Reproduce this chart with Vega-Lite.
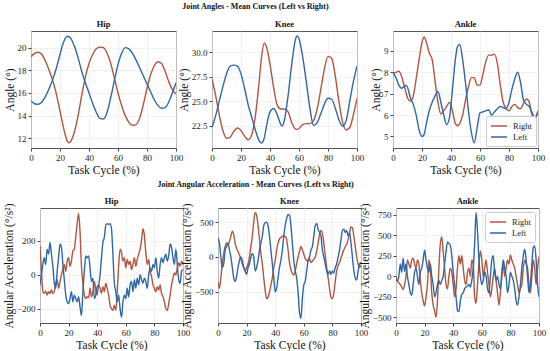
{
"$schema": "https://vega.github.io/schema/vega-lite/v6.json",
"background": "white",
"padding": {"left": 2, "top": 3, "right": 2, "bottom": 2},
"config": {
 "font": "Liberation Serif",
 "view": {"stroke": "#555555", "strokeWidth": 1},
 "axis": {"grid": true, "gridColor": "#ebebeb", "gridWidth": 0.7, "domain": false, "tickColor": "#444444", "tickSize": 3, "labelFontSize": 9, "labelColor": "#222222", "titleFontSize": 11.5, "titleFontWeight": "normal", "titleColor": "#111111", "labelFlush": false, "labelPadding": 2, "titlePadding": 2},
 "title": {"fontSize": 8.5, "fontWeight": "bold", "color": "#111111", "offset": 3},
 "legend": {"strokeColor": "#cccccc", "fillColor": "white", "padding": 4, "cornerRadius": 2, "labelFontSize": 8.5, "labelColor": "#222222", "symbolType": "M-1.6,0H1.6", "symbolSize": 100, "symbolStrokeWidth": 1.5, "symbolOffset": 3, "rowPadding": 0, "labelOffset": 8}
},
"datasets": {
"angles": [
{"j":"Hip","x":0,"Right":19.2,"Left":15.3},{"j":"Hip","x":2.5,"Right":19.5,"Left":15.05},{"j":"Hip","x":5,"Right":19.6,"Left":15.0},{"j":"Hip","x":7.5,"Right":19.4,"Left":15.2},{"j":"Hip","x":10,"Right":18.8,"Left":15.7},{"j":"Hip","x":12.5,"Right":18.0,"Left":16.4},{"j":"Hip","x":15,"Right":17.1,"Left":17.2},{"j":"Hip","x":17.5,"Right":15.9,"Left":18.2},{"j":"Hip","x":20,"Right":14.4,"Left":19.4},{"j":"Hip","x":22.5,"Right":12.9,"Left":20.5},{"j":"Hip","x":25,"Right":11.75,"Left":21.0},{"j":"Hip","x":26.25,"Right":11.6,"Left":20.95},{"j":"Hip","x":27.5,"Right":11.75,"Left":20.8},{"j":"Hip","x":30,"Right":12.6,"Left":20.1},{"j":"Hip","x":32.5,"Right":14.0,"Left":19.1},{"j":"Hip","x":35,"Right":15.8,"Left":17.9},{"j":"Hip","x":37.5,"Right":17.4,"Left":16.9},{"j":"Hip","x":40,"Right":18.6,"Left":16.0},{"j":"Hip","x":42.5,"Right":19.4,"Left":15.1},{"j":"Hip","x":45,"Right":19.9,"Left":14.3},{"j":"Hip","x":47.5,"Right":20.05,"Left":13.75},{"j":"Hip","x":50,"Right":20.0,"Left":13.7},{"j":"Hip","x":52.5,"Right":19.5,"Left":14.3},{"j":"Hip","x":55,"Right":18.6,"Left":15.6},{"j":"Hip","x":57.5,"Right":17.3,"Left":17.1},{"j":"Hip","x":60,"Right":16.0,"Left":18.5},{"j":"Hip","x":62.5,"Right":14.9,"Left":19.5},{"j":"Hip","x":65,"Right":14.0,"Left":20.0},{"j":"Hip","x":67.5,"Right":13.4,"Left":19.9},{"j":"Hip","x":70,"Right":13.15,"Left":19.5},{"j":"Hip","x":72.5,"Right":13.2,"Left":18.9},{"j":"Hip","x":75,"Right":13.8,"Left":18.2},{"j":"Hip","x":77.5,"Right":15.0,"Left":17.5},{"j":"Hip","x":80,"Right":16.4,"Left":16.8},{"j":"Hip","x":82.5,"Right":17.6,"Left":16.1},{"j":"Hip","x":85,"Right":18.4,"Left":15.4},{"j":"Hip","x":87.5,"Right":18.75,"Left":14.9},{"j":"Hip","x":90,"Right":18.6,"Left":14.65},{"j":"Hip","x":92.5,"Right":17.9,"Left":14.7},{"j":"Hip","x":95,"Right":17.0,"Left":15.2},{"j":"Hip","x":97.5,"Right":16.3,"Left":16.0},{"j":"Hip","x":100,"Right":15.9,"Left":16.9},
{"j":"Knee","x":0,"Right":27.3,"Left":22.3},{"j":"Knee","x":2.5,"Right":25.6,"Left":23.5},{"j":"Knee","x":5,"Right":23.6,"Left":25.0},{"j":"Knee","x":7.5,"Right":22.0,"Left":26.5},{"j":"Knee","x":10,"Right":21.2,"Left":27.8},{"j":"Knee","x":12.5,"Right":21.3,"Left":28.6},{"j":"Knee","x":15,"Right":21.9,"Left":28.7},{"j":"Knee","x":17.5,"Right":22.25,"Left":28.6},{"j":"Knee","x":20,"Right":22.0,"Left":27.8},{"j":"Knee","x":22.5,"Right":21.4,"Left":26.3},{"j":"Knee","x":25,"Right":21.05,"Left":24.6},{"j":"Knee","x":27.5,"Right":21.6,"Left":23.3},{"j":"Knee","x":30,"Right":23.6,"Left":22.0},{"j":"Knee","x":32.5,"Right":27.0,"Left":20.95},{"j":"Knee","x":34,"Right":29.3,"Left":20.7},{"j":"Knee","x":36,"Right":30.95,"Left":21.2},{"j":"Knee","x":37.5,"Right":30.6,"Left":22.4},{"j":"Knee","x":40,"Right":28.8,"Left":23.9},{"j":"Knee","x":42.5,"Right":26.4,"Left":24.25},{"j":"Knee","x":45,"Right":24.6,"Left":23.6},{"j":"Knee","x":47.5,"Right":24.2,"Left":22.6},{"j":"Knee","x":48.5,"Right":24.2,"Left":22.45},{"j":"Knee","x":50,"Right":24.2,"Left":23.1},{"j":"Knee","x":52.5,"Right":23.9,"Left":25.6},{"j":"Knee","x":55,"Right":22.8,"Left":28.8},{"j":"Knee","x":57.5,"Right":22.15,"Left":31.3},{"j":"Knee","x":58.5,"Right":22.1,"Left":31.7},{"j":"Knee","x":60,"Right":22.2,"Left":31.4},{"j":"Knee","x":62.5,"Right":22.6,"Left":29.6},{"j":"Knee","x":65,"Right":22.7,"Left":27.0},{"j":"Knee","x":67.5,"Right":22.7,"Left":24.3},{"j":"Knee","x":70,"Right":23.0,"Left":22.5},{"j":"Knee","x":72.5,"Right":24.2,"Left":22.8},{"j":"Knee","x":75,"Right":26.2,"Left":23.7},{"j":"Knee","x":77.5,"Right":28.3,"Left":24.7},{"j":"Knee","x":80,"Right":29.6,"Left":25.3},{"j":"Knee","x":82.5,"Right":29.4,"Left":25.2},{"j":"Knee","x":85,"Right":27.6,"Left":24.3},{"j":"Knee","x":87.5,"Right":25.0,"Left":23.1},{"j":"Knee","x":90,"Right":22.9,"Left":22.45},{"j":"Knee","x":92.5,"Right":22.05,"Left":23.0},{"j":"Knee","x":95,"Right":22.3,"Left":25.0},{"j":"Knee","x":97.5,"Right":23.6,"Left":27.0},{"j":"Knee","x":100,"Right":25.3,"Left":28.6},
{"j":"Ankle","x":0,"Right":7.95,"Left":8.0},{"j":"Ankle","x":2,"Right":8.0,"Left":7.75},{"j":"Ankle","x":4,"Right":8.05,"Left":7.4},{"j":"Ankle","x":6,"Right":7.8,"Left":7.25},{"j":"Ankle","x":8,"Right":7.3,"Left":7.35},{"j":"Ankle","x":9,"Right":7.05,"Left":7.4},{"j":"Ankle","x":10,"Right":6.8,"Left":7.3},{"j":"Ankle","x":12,"Right":6.65,"Left":6.8},{"j":"Ankle","x":14,"Right":6.9,"Left":6.5},{"j":"Ankle","x":16,"Right":7.7,"Left":6.0},{"j":"Ankle","x":18,"Right":8.6,"Left":5.3},{"j":"Ankle","x":20,"Right":9.4,"Left":5.0},{"j":"Ankle","x":21.5,"Right":9.65,"Left":5.1},{"j":"Ankle","x":23,"Right":9.4,"Left":5.6},{"j":"Ankle","x":25,"Right":8.9,"Left":6.2},{"j":"Ankle","x":27,"Right":8.6,"Left":6.6},{"j":"Ankle","x":29,"Right":7.6,"Left":6.9},{"j":"Ankle","x":31,"Right":6.6,"Left":7.1},{"j":"Ankle","x":33,"Right":6.05,"Left":6.6},{"j":"Ankle","x":35,"Right":6.2,"Left":6.0},{"j":"Ankle","x":37,"Right":6.4,"Left":5.55},{"j":"Ankle","x":39,"Right":6.6,"Left":5.9},{"j":"Ankle","x":41,"Right":6.2,"Left":7.2},{"j":"Ankle","x":43,"Right":5.6,"Left":8.6},{"j":"Ankle","x":44.5,"Right":5.5,"Left":9.2},{"j":"Ankle","x":46,"Right":5.6,"Left":9.3},{"j":"Ankle","x":48,"Right":6.0,"Left":8.6},{"j":"Ankle","x":50,"Right":6.7,"Left":7.5},{"j":"Ankle","x":52,"Right":7.3,"Left":6.2},{"j":"Ankle","x":54,"Right":7.75,"Left":5.2},{"j":"Ankle","x":56,"Right":7.75,"Left":4.7},{"j":"Ankle","x":58,"Right":7.4,"Left":5.4},{"j":"Ankle","x":60,"Right":7.4,"Left":6.1},{"j":"Ankle","x":62,"Right":7.9,"Left":6.15},{"j":"Ankle","x":64,"Right":8.5,"Left":6.2},{"j":"Ankle","x":66,"Right":8.8,"Left":6.25},{"j":"Ankle","x":68,"Right":8.8,"Left":6.0},{"j":"Ankle","x":70,"Right":8.85,"Left":6.15},{"j":"Ankle","x":72,"Right":8.4,"Left":6.3},{"j":"Ankle","x":74,"Right":7.4,"Left":6.4},{"j":"Ankle","x":76,"Right":6.6,"Left":6.35},{"j":"Ankle","x":78,"Right":6.3,"Left":6.3},{"j":"Ankle","x":80,"Right":6.2,"Left":6.6},{"j":"Ankle","x":82,"Right":6.4,"Left":7.2},{"j":"Ankle","x":84,"Right":6.5,"Left":7.7},{"j":"Ankle","x":86,"Right":6.35,"Left":8.0},{"j":"Ankle","x":88,"Right":6.3,"Left":7.5},{"j":"Ankle","x":90,"Right":6.55,"Left":6.7},{"j":"Ankle","x":92,"Right":6.75,"Left":6.5},{"j":"Ankle","x":94,"Right":6.6,"Left":6.4},{"j":"Ankle","x":96,"Right":6.0,"Left":6.1},{"j":"Ankle","x":98,"Right":5.9,"Left":5.85},{"j":"Ankle","x":100,"Right":6.2,"Left":6.15}
],
"acc": [
{"j":"Hip","x":0,"Right":170,"Left":-60},{"j":"Hip","x":1,"Right":20,"Left":0},{"j":"Hip","x":2,"Right":-100,"Left":60},{"j":"Hip","x":3,"Right":-110,"Left":100},{"j":"Hip","x":4,"Right":-95,"Left":60},{"j":"Hip","x":5,"Right":-120,"Left":150},{"j":"Hip","x":6,"Right":-100,"Left":120},{"j":"Hip","x":7,"Right":-110,"Left":190},{"j":"Hip","x":8,"Right":-90,"Left":120},{"j":"Hip","x":9,"Right":-110,"Left":50},{"j":"Hip","x":10,"Right":-100,"Left":-50},{"j":"Hip","x":11,"Right":-50,"Left":-80},{"j":"Hip","x":12,"Right":-30,"Left":20},{"j":"Hip","x":13,"Right":-80,"Left":100},{"j":"Hip","x":14,"Right":-40,"Left":180},{"j":"Hip","x":15,"Right":0,"Left":160},{"j":"Hip","x":16,"Right":30,"Left":60},{"j":"Hip","x":17,"Right":60,"Left":-30},{"j":"Hip","x":18,"Right":20,"Left":-120},{"j":"Hip","x":19,"Right":80,"Left":-160},{"j":"Hip","x":20,"Right":100,"Left":-170},{"j":"Hip","x":21,"Right":50,"Left":-140},{"j":"Hip","x":22,"Right":80,"Left":-100},{"j":"Hip","x":23,"Right":140,"Left":-160},{"j":"Hip","x":24,"Right":150,"Left":-120},{"j":"Hip","x":25,"Right":220,"Left":-140},{"j":"Hip","x":26,"Right":300,"Left":-160},{"j":"Hip","x":27,"Right":360,"Left":-130},{"j":"Hip","x":28,"Right":250,"Left":-190},{"j":"Hip","x":29,"Right":50,"Left":-240},{"j":"Hip","x":30,"Right":-50,"Left":-100},{"j":"Hip","x":31,"Right":-120,"Left":20},{"j":"Hip","x":32,"Right":-140,"Left":110},{"j":"Hip","x":33,"Right":-130,"Left":100},{"j":"Hip","x":34,"Right":-135,"Left":110},{"j":"Hip","x":35,"Right":-80,"Left":40},{"j":"Hip","x":36,"Right":-130,"Left":-40},{"j":"Hip","x":37,"Right":-100,"Left":-20},{"j":"Hip","x":38,"Right":-40,"Left":-140},{"j":"Hip","x":39,"Right":-90,"Left":-120},{"j":"Hip","x":40,"Right":-120,"Left":-70},{"j":"Hip","x":41,"Right":-60,"Left":-60},{"j":"Hip","x":42,"Right":-80,"Left":0},{"j":"Hip","x":43,"Right":-110,"Left":100},{"j":"Hip","x":44,"Right":-70,"Left":190},{"j":"Hip","x":45,"Right":-100,"Left":220},{"j":"Hip","x":46,"Right":-50,"Left":290},{"j":"Hip","x":47,"Right":-80,"Left":300},{"j":"Hip","x":48,"Right":-120,"Left":295},{"j":"Hip","x":49,"Right":-180,"Left":300},{"j":"Hip","x":50,"Right":-200,"Left":270},{"j":"Hip","x":51,"Right":-210,"Left":120},{"j":"Hip","x":52,"Right":-180,"Left":-50},{"j":"Hip","x":53,"Right":-210,"Left":-100},{"j":"Hip","x":54,"Right":-100,"Left":-160},{"j":"Hip","x":55,"Right":50,"Left":-120},{"j":"Hip","x":56,"Right":150,"Left":-200},{"j":"Hip","x":57,"Right":130,"Left":-250},{"j":"Hip","x":58,"Right":80,"Left":-160},{"j":"Hip","x":59,"Right":100,"Left":-120},{"j":"Hip","x":60,"Right":40,"Left":-140},{"j":"Hip","x":61,"Right":90,"Left":-80},{"j":"Hip","x":62,"Right":60,"Left":-130},{"j":"Hip","x":63,"Right":80,"Left":-60},{"j":"Hip","x":64,"Right":30,"Left":-40},{"j":"Hip","x":65,"Right":60,"Left":-100},{"j":"Hip","x":66,"Right":100,"Left":-30},{"j":"Hip","x":67,"Right":50,"Left":-80},{"j":"Hip","x":68,"Right":90,"Left":-20},{"j":"Hip","x":69,"Right":120,"Left":-60},{"j":"Hip","x":70,"Right":150,"Left":0},{"j":"Hip","x":71,"Right":200,"Left":-30},{"j":"Hip","x":72,"Right":270,"Left":-50},{"j":"Hip","x":73,"Right":230,"Left":-20},{"j":"Hip","x":74,"Right":130,"Left":-40},{"j":"Hip","x":75,"Right":60,"Left":-80},{"j":"Hip","x":76,"Right":90,"Left":0},{"j":"Hip","x":77,"Right":20,"Left":40},{"j":"Hip","x":78,"Right":-10,"Left":20},{"j":"Hip","x":79,"Right":-60,"Left":60},{"j":"Hip","x":80,"Right":-80,"Left":40},{"j":"Hip","x":81,"Right":-100,"Left":100},{"j":"Hip","x":82,"Right":-70,"Left":20},{"j":"Hip","x":83,"Right":-90,"Left":-20},{"j":"Hip","x":84,"Right":-60,"Left":60},{"j":"Hip","x":85,"Right":-110,"Left":100},{"j":"Hip","x":86,"Right":-130,"Left":70},{"j":"Hip","x":87,"Right":-160,"Left":100},{"j":"Hip","x":88,"Right":-200,"Left":120},{"j":"Hip","x":89,"Right":-210,"Left":80},{"j":"Hip","x":90,"Right":-170,"Left":110},{"j":"Hip","x":91,"Right":-120,"Left":180},{"j":"Hip","x":92,"Right":-60,"Left":160},{"j":"Hip","x":93,"Right":-20,"Left":100},{"j":"Hip","x":94,"Right":10,"Left":60},{"j":"Hip","x":95,"Right":0,"Left":150},{"j":"Hip","x":96,"Right":40,"Left":60},{"j":"Hip","x":97,"Right":70,"Left":-30},{"j":"Hip","x":98,"Right":50,"Left":-50},{"j":"Hip","x":99,"Right":80,"Left":20},{"j":"Hip","x":100,"Right":60,"Left":30},
{"j":"Knee","x":0,"Right":-350,"Left":270},{"j":"Knee","x":1,"Right":-450,"Left":200},{"j":"Knee","x":2,"Right":-300,"Left":0},{"j":"Knee","x":3,"Right":-100,"Left":-150},{"j":"Knee","x":4,"Right":50,"Left":-100},{"j":"Knee","x":5,"Right":150,"Left":100},{"j":"Knee","x":6,"Right":200,"Left":150},{"j":"Knee","x":7,"Right":180,"Left":200},{"j":"Knee","x":8,"Right":220,"Left":100},{"j":"Knee","x":9,"Right":300,"Left":0},{"j":"Knee","x":10,"Right":370,"Left":-150},{"j":"Knee","x":11,"Right":320,"Left":-300},{"j":"Knee","x":12,"Right":200,"Left":-350},{"j":"Knee","x":13,"Right":120,"Left":-280},{"j":"Knee","x":14,"Right":80,"Left":-150},{"j":"Knee","x":15,"Right":30,"Left":-50},{"j":"Knee","x":16,"Right":-30,"Left":0},{"j":"Knee","x":17,"Right":-100,"Left":-50},{"j":"Knee","x":18,"Right":-150,"Left":-150},{"j":"Knee","x":19,"Right":-200,"Left":-200},{"j":"Knee","x":20,"Right":-150,"Left":-250},{"j":"Knee","x":21,"Right":-100,"Left":-150},{"j":"Knee","x":22,"Right":0,"Left":-100},{"j":"Knee","x":23,"Right":150,"Left":0},{"j":"Knee","x":24,"Right":300,"Left":50},{"j":"Knee","x":25,"Right":500,"Left":0},{"j":"Knee","x":26,"Right":640,"Left":-200},{"j":"Knee","x":27,"Right":600,"Left":-150},{"j":"Knee","x":28,"Right":450,"Left":-50},{"j":"Knee","x":29,"Right":250,"Left":100},{"j":"Knee","x":30,"Right":50,"Left":200},{"j":"Knee","x":31,"Right":-100,"Left":300},{"j":"Knee","x":32,"Right":-300,"Left":450},{"j":"Knee","x":33,"Right":-480,"Left":490},{"j":"Knee","x":34,"Right":-600,"Left":500},{"j":"Knee","x":35,"Right":-580,"Left":450},{"j":"Knee","x":36,"Right":-500,"Left":300},{"j":"Knee","x":37,"Right":-400,"Left":100},{"j":"Knee","x":38,"Right":-300,"Left":-100},{"j":"Knee","x":39,"Right":-150,"Left":-300},{"j":"Knee","x":40,"Right":-50,"Left":-500},{"j":"Knee","x":41,"Right":100,"Left":-450},{"j":"Knee","x":42,"Right":200,"Left":-300},{"j":"Knee","x":43,"Right":260,"Left":-150},{"j":"Knee","x":44,"Right":280,"Left":-50},{"j":"Knee","x":45,"Right":300,"Left":100},{"j":"Knee","x":46,"Right":290,"Left":300},{"j":"Knee","x":47,"Right":300,"Left":450},{"j":"Knee","x":48,"Right":250,"Left":550},{"j":"Knee","x":49,"Right":100,"Left":610},{"j":"Knee","x":50,"Right":-80,"Left":600},{"j":"Knee","x":51,"Right":-180,"Left":450},{"j":"Knee","x":52,"Right":-240,"Left":200},{"j":"Knee","x":53,"Right":-260,"Left":-50},{"j":"Knee","x":54,"Right":-200,"Left":-200},{"j":"Knee","x":55,"Right":-100,"Left":-300},{"j":"Knee","x":56,"Right":0,"Left":-500},{"j":"Knee","x":57,"Right":80,"Left":-800},{"j":"Knee","x":58,"Right":150,"Left":-880},{"j":"Knee","x":59,"Right":100,"Left":-600},{"j":"Knee","x":60,"Right":40,"Left":-400},{"j":"Knee","x":61,"Right":-20,"Left":-350},{"j":"Knee","x":62,"Right":-50,"Left":-200},{"j":"Knee","x":63,"Right":-60,"Left":-50},{"j":"Knee","x":64,"Right":-20,"Left":0},{"j":"Knee","x":65,"Right":-80,"Left":100},{"j":"Knee","x":66,"Right":-60,"Left":150},{"j":"Knee","x":67,"Right":-30,"Left":300},{"j":"Knee","x":68,"Right":0,"Left":450},{"j":"Knee","x":69,"Right":80,"Left":480},{"j":"Knee","x":70,"Right":200,"Left":400},{"j":"Knee","x":71,"Right":320,"Left":350},{"j":"Knee","x":72,"Right":380,"Left":300},{"j":"Knee","x":73,"Right":340,"Left":100},{"j":"Knee","x":74,"Right":200,"Left":0},{"j":"Knee","x":75,"Right":20,"Left":-100},{"j":"Knee","x":76,"Right":-150,"Left":-200},{"j":"Knee","x":77,"Right":-300,"Left":-250},{"j":"Knee","x":78,"Right":-450,"Left":-200},{"j":"Knee","x":79,"Right":-580,"Left":-250},{"j":"Knee","x":80,"Right":-600,"Left":-200},{"j":"Knee","x":81,"Right":-520,"Left":-230},{"j":"Knee","x":82,"Right":-350,"Left":-150},{"j":"Knee","x":83,"Right":-200,"Left":-100},{"j":"Knee","x":84,"Right":-120,"Left":0},{"j":"Knee","x":85,"Right":-80,"Left":100},{"j":"Knee","x":86,"Right":-20,"Left":250},{"j":"Knee","x":87,"Right":50,"Left":380},{"j":"Knee","x":88,"Right":100,"Left":400},{"j":"Knee","x":89,"Right":150,"Left":350},{"j":"Knee","x":90,"Right":180,"Left":380},{"j":"Knee","x":91,"Right":250,"Left":300},{"j":"Knee","x":92,"Right":350,"Left":350},{"j":"Knee","x":93,"Right":430,"Left":200},{"j":"Knee","x":94,"Right":420,"Left":0},{"j":"Knee","x":95,"Right":300,"Left":-200},{"j":"Knee","x":96,"Right":150,"Left":-300},{"j":"Knee","x":97,"Right":0,"Left":-330},{"j":"Knee","x":98,"Right":-100,"Left":-200},{"j":"Knee","x":99,"Right":-150,"Left":-100},{"j":"Knee","x":100,"Right":-120,"Left":-80},
{"j":"Ankle","x":0,"Right":0,"Left":-50},{"j":"Ankle","x":1,"Right":-50,"Left":-50},{"j":"Ankle","x":2,"Right":-80,"Left":0},{"j":"Ankle","x":3,"Right":-100,"Left":150},{"j":"Ankle","x":4,"Right":-130,"Left":50},{"j":"Ankle","x":5,"Right":-160,"Left":220},{"j":"Ankle","x":6,"Right":-100,"Left":60},{"j":"Ankle","x":7,"Right":0,"Left":150},{"j":"Ankle","x":8,"Right":200,"Left":0},{"j":"Ankle","x":9,"Right":150,"Left":-100},{"j":"Ankle","x":10,"Right":100,"Left":-200},{"j":"Ankle","x":11,"Right":200,"Left":-230},{"j":"Ankle","x":12,"Right":220,"Left":-100},{"j":"Ankle","x":13,"Right":150,"Left":50},{"j":"Ankle","x":14,"Right":100,"Left":100},{"j":"Ankle","x":15,"Right":200,"Left":0},{"j":"Ankle","x":16,"Right":150,"Left":-100},{"j":"Ankle","x":17,"Right":-50,"Left":50},{"j":"Ankle","x":18,"Right":-200,"Left":100},{"j":"Ankle","x":19,"Right":-300,"Left":200},{"j":"Ankle","x":20,"Right":-360,"Left":320},{"j":"Ankle","x":21,"Right":-250,"Left":200},{"j":"Ankle","x":22,"Right":-100,"Left":100},{"j":"Ankle","x":23,"Right":200,"Left":50},{"j":"Ankle","x":24,"Right":100,"Left":150},{"j":"Ankle","x":25,"Right":-200,"Left":0},{"j":"Ankle","x":26,"Right":-350,"Left":-100},{"j":"Ankle","x":27,"Right":-420,"Left":-250},{"j":"Ankle","x":28,"Right":-500,"Left":-200},{"j":"Ankle","x":29,"Right":-300,"Left":-100},{"j":"Ankle","x":30,"Right":100,"Left":-50},{"j":"Ankle","x":31,"Right":400,"Left":-100},{"j":"Ankle","x":32,"Right":480,"Left":-50},{"j":"Ankle","x":33,"Right":300,"Left":0},{"j":"Ankle","x":34,"Right":100,"Left":150},{"j":"Ankle","x":35,"Right":-100,"Left":300},{"j":"Ankle","x":36,"Right":-150,"Left":420},{"j":"Ankle","x":37,"Right":0,"Left":400},{"j":"Ankle","x":38,"Right":100,"Left":380},{"j":"Ankle","x":39,"Right":50,"Left":250},{"j":"Ankle","x":40,"Right":-100,"Left":50},{"j":"Ankle","x":41,"Right":-250,"Left":-100},{"j":"Ankle","x":42,"Right":-150,"Left":-250},{"j":"Ankle","x":43,"Right":100,"Left":-420},{"j":"Ankle","x":44,"Right":250,"Left":-430},{"j":"Ankle","x":45,"Right":150,"Left":-300},{"j":"Ankle","x":46,"Right":250,"Left":-220},{"j":"Ankle","x":47,"Right":100,"Left":-200},{"j":"Ankle","x":48,"Right":-50,"Left":-150},{"j":"Ankle","x":49,"Right":-100,"Left":-130},{"j":"Ankle","x":50,"Right":50,"Left":-120},{"j":"Ankle","x":51,"Right":100,"Left":-100},{"j":"Ankle","x":52,"Right":0,"Left":-130},{"j":"Ankle","x":53,"Right":200,"Left":-50},{"j":"Ankle","x":54,"Right":150,"Left":100},{"j":"Ankle","x":55,"Right":-250,"Left":400},{"j":"Ankle","x":56,"Right":-330,"Left":780},{"j":"Ankle","x":57,"Right":-100,"Left":550},{"j":"Ankle","x":58,"Right":150,"Left":200},{"j":"Ankle","x":59,"Right":310,"Left":0},{"j":"Ankle","x":60,"Right":200,"Left":-100},{"j":"Ankle","x":61,"Right":0,"Left":-50},{"j":"Ankle","x":62,"Right":100,"Left":50},{"j":"Ankle","x":63,"Right":200,"Left":0},{"j":"Ankle","x":64,"Right":50,"Left":-150},{"j":"Ankle","x":65,"Right":-100,"Left":-200},{"j":"Ankle","x":66,"Right":-250,"Left":0},{"j":"Ankle","x":67,"Right":-150,"Left":200},{"j":"Ankle","x":68,"Right":0,"Left":250},{"j":"Ankle","x":69,"Right":100,"Left":50},{"j":"Ankle","x":70,"Right":-50,"Left":-50},{"j":"Ankle","x":71,"Right":-200,"Left":0},{"j":"Ankle","x":72,"Right":-350,"Left":-100},{"j":"Ankle","x":73,"Right":-200,"Left":-150},{"j":"Ankle","x":74,"Right":0,"Left":50},{"j":"Ankle","x":75,"Right":150,"Left":200},{"j":"Ankle","x":76,"Right":0,"Left":100},{"j":"Ankle","x":77,"Right":100,"Left":0},{"j":"Ankle","x":78,"Right":200,"Left":-200},{"j":"Ankle","x":79,"Right":150,"Left":-100},{"j":"Ankle","x":80,"Right":260,"Left":50},{"j":"Ankle","x":81,"Right":200,"Left":0},{"j":"Ankle","x":82,"Right":150,"Left":-50},{"j":"Ankle","x":83,"Right":100,"Left":-150},{"j":"Ankle","x":84,"Right":0,"Left":-300},{"j":"Ankle","x":85,"Right":-100,"Left":-350},{"j":"Ankle","x":86,"Right":-200,"Left":-250},{"j":"Ankle","x":87,"Right":-150,"Left":-100},{"j":"Ankle","x":88,"Right":-100,"Left":100},{"j":"Ankle","x":89,"Right":100,"Left":250},{"j":"Ankle","x":90,"Right":200,"Left":330},{"j":"Ankle","x":91,"Right":150,"Left":200},{"j":"Ankle","x":92,"Right":100,"Left":0},{"j":"Ankle","x":93,"Right":-100,"Left":-200},{"j":"Ankle","x":94,"Right":-200,"Left":-100},{"j":"Ankle","x":95,"Right":0,"Left":150},{"j":"Ankle","x":96,"Right":200,"Left":350},{"j":"Ankle","x":97,"Right":100,"Left":370},{"j":"Ankle","x":98,"Right":-100,"Left":200},{"j":"Ankle","x":99,"Right":100,"Left":-100},{"j":"Ankle","x":100,"Right":240,"Left":-250}
]
},
"resolve": {"scale": {"color": "independent"}, "legend": {"color": "independent"}},
"spacing": 4,
"vconcat": [
{
 "title": {"text": "Joint Angles - Mean Curves (Left vs Right)", "fontSize": 8, "anchor": "middle", "offset": 8, "dx": -19},
 "bounds": "flush",
 "spacing": 36,
 "resolve": {"scale": {"color": "independent"}, "legend": {"color": "independent"}},
 "hconcat": [
  {"width": 145, "height": 117, "title": {"text": "Hip", "frame": "group"}, "data": {"name": "angles"},
   "transform": [{"filter": "datum.j === 'Hip'"}, {"fold": ["Right", "Left"], "as": ["side", "v"]}],
   "mark": {"type": "line", "strokeWidth": 1.4, "interpolate": "monotone", "clip": true},
   "encoding": {
    "x": {"field": "x", "type": "quantitative", "scale": {"domain": [0, 100], "nice": false}, "axis": {"values": [0, 20, 40, 60, 80, 100], "title": "Task Cycle (%)"}},
    "y": {"field": "v", "type": "quantitative", "scale": {"domain": [11.14, 21.47], "nice": false, "zero": false}, "axis": {"values": [12, 14, 16, 18, 20], "title": "Angle (°)"}},
    "color": {"field": "side", "type": "nominal", "scale": {"domain": ["Right", "Left"], "range": ["#b0563f", "#2e67ab"]}, "legend": null}
   }},
  {"width": 145, "height": 117, "title": {"text": "Knee", "frame": "group"}, "data": {"name": "angles"},
   "transform": [{"filter": "datum.j === 'Knee'"}, {"fold": ["Right", "Left"], "as": ["side", "v"]}],
   "mark": {"type": "line", "strokeWidth": 1.4, "interpolate": "monotone", "clip": true},
   "encoding": {
    "x": {"field": "x", "type": "quantitative", "scale": {"domain": [0, 100], "nice": false}, "axis": {"values": [0, 20, 40, 60, 80, 100], "title": "Task Cycle (%)"}},
    "y": {"field": "v", "type": "quantitative", "scale": {"domain": [20.2, 32.2], "nice": false, "zero": false}, "axis": {"values": [22.5, 25, 27.5, 30], "format": ".1f", "title": "Angle (°)"}},
    "color": {"field": "side", "type": "nominal", "scale": {"domain": ["Right", "Left"], "range": ["#b0563f", "#2e67ab"]}, "legend": null}
   }},
  {"width": 145, "height": 117, "title": {"text": "Ankle", "frame": "group"}, "data": {"name": "angles"},
   "transform": [{"filter": "datum.j === 'Ankle'"}, {"fold": ["Right", "Left"], "as": ["side", "v"]}],
   "mark": {"type": "line", "strokeWidth": 1.4, "interpolate": "monotone", "clip": true},
   "encoding": {
    "x": {"field": "x", "type": "quantitative", "scale": {"domain": [0, 100], "nice": false}, "axis": {"values": [0, 20, 40, 60, 80, 100], "title": "Task Cycle (%)"}},
    "y": {"field": "v", "type": "quantitative", "scale": {"domain": [4.46, 9.93], "nice": false, "zero": false}, "axis": {"values": [5, 6, 7, 8, 9], "title": "Angle (°)"}},
    "color": {"field": "side", "type": "nominal", "scale": {"domain": ["Right", "Left"], "range": ["#b0563f", "#2e67ab"]}, "legend": {"title": null, "orient": "bottom-right", "offset": 2}}
   }}
 ]
},
{
 "bounds": "flush",
 "spacing": 8,
 "resolve": {"scale": {"color": "independent"}, "legend": {"color": "independent"}},
 "hconcat": [
  {"width": 1, "height": 115, "data": {"values": []}, "mark": {"type": "point"}, "encoding": {}, "view": {"stroke": null}},
  {
   "title": {"text": "Joint Angular Acceleration - Mean Curves (Left vs Right)", "fontSize": 8, "anchor": "middle", "offset": 8, "dx": -19},
   "bounds": "flush",
   "spacing": 35,
   "resolve": {"scale": {"color": "independent"}, "legend": {"color": "independent"}},
   "hconcat": [
    {"width": 143, "height": 115, "title": {"text": "Hip", "frame": "group", "offset": -3}, "data": {"name": "acc"},
     "transform": [{"filter": "datum.j === 'Hip'"}, {"fold": ["Right", "Left"], "as": ["side", "v"]}],
     "mark": {"type": "line", "strokeWidth": 1.4, "interpolate": "monotone", "clip": true},
     "encoding": {
      "x": {"field": "x", "type": "quantitative", "scale": {"domain": [0, 100], "nice": false}, "axis": {"values": [0, 20, 40, 60, 80, 100], "title": "Task Cycle (%)"}},
      "y": {"field": "v", "type": "quantitative", "scale": {"domain": [-284, 392], "nice": false, "zero": false}, "axis": {"values": [-200, 0, 200], "title": "Angular Acceleration (°/s²)"}},
      "color": {"field": "side", "type": "nominal", "scale": {"domain": ["Right", "Left"], "range": ["#b0563f", "#2e67ab"]}, "legend": null}
     }},
    {"width": 143, "height": 115, "title": {"text": "Knee", "frame": "group", "offset": -3}, "data": {"name": "acc"},
     "transform": [{"filter": "datum.j === 'Knee'"}, {"fold": ["Right", "Left"], "as": ["side", "v"]}],
     "mark": {"type": "line", "strokeWidth": 1.4, "interpolate": "monotone", "clip": true},
     "encoding": {
      "x": {"field": "x", "type": "quantitative", "scale": {"domain": [0, 100], "nice": false}, "axis": {"values": [0, 20, 40, 60, 80, 100], "title": "Task Cycle (%)"}},
      "y": {"field": "v", "type": "quantitative", "scale": {"domain": [-947, 703], "nice": false, "zero": false}, "axis": {"values": [-500, 0, 500], "title": "Angular Acceleration (°/s²)"}},
      "color": {"field": "side", "type": "nominal", "scale": {"domain": ["Right", "Left"], "range": ["#b0563f", "#2e67ab"]}, "legend": null}
     }},
    {"width": 143, "height": 115, "title": {"text": "Ankle", "frame": "group", "offset": -3}, "data": {"name": "acc"},
     "transform": [{"filter": "datum.j === 'Ankle'"}, {"fold": ["Right", "Left"], "as": ["side", "v"]}],
     "mark": {"type": "line", "strokeWidth": 1.4, "interpolate": "monotone", "clip": true},
     "encoding": {
      "x": {"field": "x", "type": "quantitative", "scale": {"domain": [0, 100], "nice": false}, "axis": {"values": [0, 20, 40, 60, 80, 100], "title": "Task Cycle (%)"}},
      "y": {"field": "v", "type": "quantitative", "scale": {"domain": [-569, 833], "nice": false, "zero": false}, "axis": {"values": [-500, -250, 0, 250, 500, 750], "title": "Angular Acceleration (°/s²)"}},
      "color": {"field": "side", "type": "nominal", "scale": {"domain": ["Right", "Left"], "range": ["#b0563f", "#2e67ab"]}, "legend": {"title": null, "orient": "top-right", "offset": 4}}
     }}
   ]
  }
 ]
}
]
}
